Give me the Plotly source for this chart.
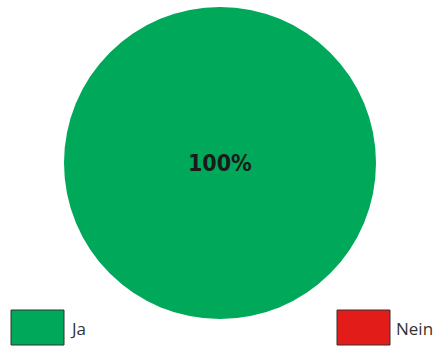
import plotly.graph_objects as go

categories = ["Ja", "Nein"]
values = [100, 0]
colors = ["#00a85a", "#e21d19"]

W, H = 433, 347

texts = [f"{v}%" if v > 0 else "" for v in values]

fig = go.Figure(go.Pie(
    labels=categories,
    values=values,
    text=texts,
    textinfo="text",
    textposition="inside",
    insidetextorientation="horizontal",
    textfont=dict(family="DejaVu Sans Condensed, DejaVu Sans", size=23, color="#1a1a1a", weight="bold"),
    marker=dict(colors=colors, line=dict(width=0)),
    sort=False,
    direction="clockwise",
    showlegend=False,
    domain=dict(x=[64 / W, 376 / W], y=[(H - 319) / H, (H - 7) / H]),
    hoverinfo="label+percent",
))

# custom legend boxes built from the categories
legend_x = [11, 337]
for cat, col, lx in zip(categories, colors, legend_x):
    fig.add_shape(type="rect", xref="paper", yref="paper",
                  x0=lx / W, x1=(lx + 53) / W,
                  y0=(H - 345) / H, y1=(H - 310) / H,
                  fillcolor=col, line=dict(color="#333333", width=1))
    fig.add_annotation(xref="paper", yref="paper",
                       x=(lx + 57) / W, y=(H - 328) / H,
                       text=cat, showarrow=False,
                       xanchor="left", yanchor="middle",
                       font=dict(family="Open Sans", size=17, color="#333333"))

fig.update_layout(
    width=W, height=H,
    margin=dict(l=0, r=0, t=0, b=0),
    paper_bgcolor="white",
    plot_bgcolor="white",
)

fig.write_html("out.html", config={"displayModeBar": False},
               post_script="document.body.style.margin='0';")
